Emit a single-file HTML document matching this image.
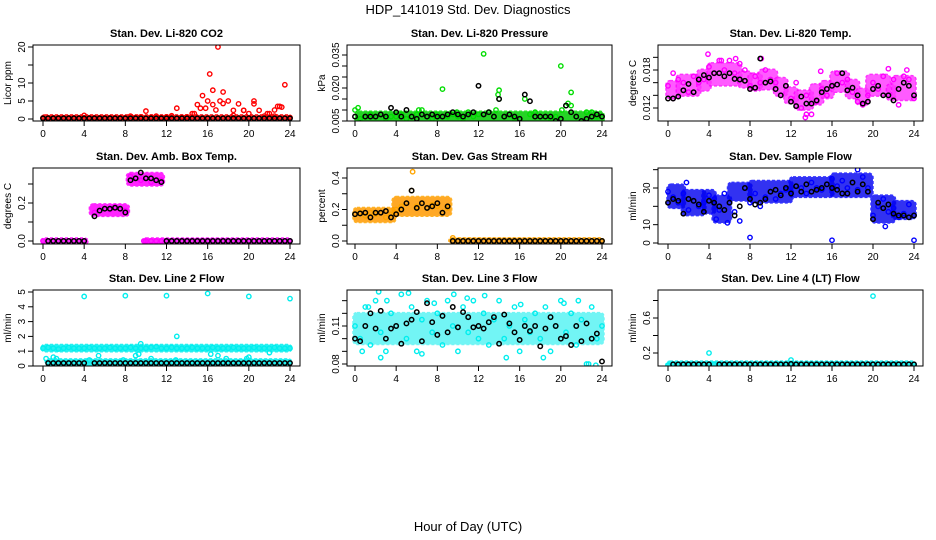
<!DOCTYPE html>
<html><head><meta charset="utf-8">
<style>
body{margin:0;background:#fff;}
svg{display:block;font-family:"Liberation Sans",Arial,sans-serif;}
</style></head>
<body>
<svg id="chart" width="936" height="540" viewBox="0 0 936 540" xmlns="http://www.w3.org/2000/svg">
<rect width="936" height="540" fill="#fff"/>
<text x="468" y="14" font-size="13" text-anchor="middle">HDP_141019  Std. Dev. Diagnostics</text>
<text x="468" y="531" font-size="13" text-anchor="middle">Hour of Day (UTC)</text>
</svg>
<script>
// ---- data (values at every 0.5 h from 0 to 24) ----
const xTicks = [0,4,8,12,16,20,24];
const co2Color = [0.3,0.3,0.3,0.3,0.3,0.3,0.3,0.3, 1.0,0.3,0.3,0.3,0.3,0.3,0.3,0.3, 0.3,0.8,0.4,0.6,2.2,0.5,0.8,0.4, 0.6,0.9,3.0,0.5,0.6,1.5,4.0,6.5, 5.0,8.0,20,7.5,5.0,1.0,4.2,2.4, 1.5,5.0,2.4,0.8,1.5,0.8,3.5,9.5,0.4];
const co2Black = [0.2,0.2,0.2,0.2,0.2,0.2,0.2,0.2,0.2,0.2,0.2,0.2,0.2,0.2,0.2,0.2,0.2,0.2,0.2,0.2,0.2,0.2,0.2,0.2,0.2,0.2,0.2,0.2,0.2,0.2,0.2,0.2,0.2,0.2,0.2,0.2,0.2,0.2,0.2,0.2,0.2,0.2,0.2,0.2,0.2,0.2,0.2,0.2,0.2];
const co2ExtraH = [16.2,15.8,16.5,17.5,18.5,19.5,20.5,22.5,23.2,15.3,16.8,17.2,14.7,21.8,22.8];
const co2ExtraV = [12.5,3,4,4.3,2.4,2.4,4.2,2.5,3.3,3.0,2.5,5,1.5,1.5,3.5];
const co2Bands = [[0,24,0,0.6]];

const presColor = [0.010,0.006,0.007,0.008,0.007,0.008,0.006,0.007, 0.007,0.008,0.006,0.007,0.008,0.010,0.007,0.006, 0.008,0.0195,0.007,0.008,0.007,0.006,0.009,0.007, 0.008,0.0355,0.009,0.007,0.019,0.007,0.008,0.006, 0.006,0.015,0.008,0.009,0.007,0.007,0.006,0.007, 0.030,0.012,0.018,0.007,0.005,0.009,0.009,0.007,0.007];
const presBlack = [0.007,0.004,0.007,0.007,0.007,0.008,0.007,0.011, 0.009,0.007,0.010,0.007,0.006,0.008,0.007,0.008, 0.007,0.007,0.008,0.009,0.008,0.007,0.008,0.009, 0.021,0.008,0.009,0.007,0.015,0.007,0.008,0.007, 0.006,0.017,0.014,0.007,0.007,0.007,0.007,0.005, 0.006,0.012,0.009,0.007,0.005,0.006,0.007,0.008,0.007];
const presExtraH = [0.3,13.9,14.0,20.1,20.7,21.0,6.2,9.9,13.7];
const presExtraV = [0.011,0.017,0.015,0.010,0.013,0.012,0.010,0.009,0.010];
const presBands = [[0.2,24,0.0045,0.0085]];

const tempColor = [0.0155,0.0135,0.0165,0.016,0.0145,0.017,0.016,0.0165, 0.0185,0.0175,0.0195,0.018,0.0195,0.0175,0.019,0.0180, 0.0155,0.0170,0.0160,0.0180,0.0165,0.0160,0.0140,0.0155, 0.0135,0.0160,0.0120,0.0140,0.0110,0.0130,0.0150,0.0140, 0.0155,0.0175,0.0160,0.0165,0.0145,0.0130,0.0125,0.0140, 0.0160,0.0150,0.0170,0.0140,0.0165,0.0125,0.0170,0.0165,0.0135];
const tempBlack = [0.0135,0.0135,0.0138,0.0148,0.0158,0.0145,0.0165,0.0172, 0.0168,0.0175,0.0175,0.0170,0.0175,0.0166,0.0165,0.0163, 0.0150,0.0152,0.0198,0.0160,0.0162,0.0150,0.0140,0.0155, 0.0130,0.0123,0.0138,0.0127,0.0127,0.0132,0.0145,0.0150, 0.0155,0.0157,0.0175,0.0148,0.0152,0.0140,0.0127,0.0130, 0.0150,0.0155,0.0140,0.0140,0.0132,0.0150,0.0160,0.0155,0.0140];
const tempExtraH = [0.5,5.2,6.6,13.4,13.5,14.9,3.9,9.1,21.5,23.3];
const tempExtraV = [0.0175,0.0195,0.0198,0.0105,0.0110,0.0178,0.0205,0.0198,0.0182,0.0180];
const tempBands = [[0,1,0.0138,0.0160],[1,3,0.0142,0.0170],[3,4,0.0150,0.0178],[4,7,0.0158,0.0188],[7,8,0.0155,0.0175],[8,9,0.0150,0.0172],[9,10.5,0.0152,0.0178],[10.5,11.5,0.0142,0.0165],[11.5,12.5,0.0130,0.0150],[12.5,14,0.0120,0.0145],[14,15,0.0128,0.0155],[15,16,0.0138,0.0160],[16,17.5,0.0148,0.0175],[17.5,18.5,0.0138,0.0162],[18.5,19.5,0.0128,0.0148],[19.5,21.5,0.0142,0.0170],[21.5,22,0.0135,0.0155],[22,24,0.0135,0.0168]];

const ambColor = [0,0,0,0,0,0,0,0,0,null,0.15,0.16,0.17,0.165,0.18,0.17,0.16,0.34,0.33,0.32,0.33,0.31,0.32,0.32,0,0,0,0,0,0,0,0,0,0,0,0,0,0,0,0,0,0,0,0,0,0,0,0,0];
const ambBlack = [null,0,0,0,0,0,0,0,0,null,0.13,0.16,0.17,0.17,0.175,0.17,0.15,0.32,0.33,0.36,0.33,0.33,0.32,0.31,0,0,0,0,0,0,0,0,0,0,0,0,0,0,0,0,0,0,0,0,0,0,0,0,0];
const ambExtraH = [10,10.5,11,11.5,9.8];
const ambExtraV = [0,0,0,0,0];
const ambBands = [[0,4.2,-0.005,0.005],[4.7,8.2,0.14,0.185],[8.3,11.6,0.30,0.35],[9.8,24,-0.005,0.005]];

const rhColor = [0.17,0.18,0.16,0.18,0.17,0.18,0.15,0.17, 0.20,0.22,0.24,0.32,0.22,0.24,0.21,0.23,0.22,0.18,0.21,0.02, 0,0,0,0,0,0,0,0,0,0,0,0,0,0,0,0,0,0,0,0,0,0,0,0,0,0,0,0,0];
const rhBlack = [0.17,0.175,0.18,0.15,0.18,0.18,0.19,0.15, 0.17,0.20,0.24,0.32,0.21,0.24,0.21,0.22, 0.24,0.18,0.22, 0,0,0,0,0,0,0,0,0,0,0,0,0,0,0,0,0,0,0,0,0,0,0,0,0,0,0,0,0,0];
const rhExtraH = [5.6];
const rhExtraV = [0.44];
const rhBands = [[0,3.8,0.13,0.2],[3.8,9.2,0.17,0.27],[9.3,24,-0.005,0.008]];

const flowColor = [28,25,22,27,18,23,20,22, 26,24,18,27,22,17,12,30, 22,27,20,25,28,24,27,29, 28,31,30,27,33,30,29,32, 35,31,34,30,33,29,36,30, 15,20,24,17,19,14,16,21,15];
const flowBlack = [22,24,23,16,24,23,21,17, 23,22,20,18,22,15,20,30, 24,21,22,24,28,29,26,30, 27,31,28,32,28,29,30,32, 30,29,27,27,33,28,32,28, 13,22,19,21,16,15,15,14,15];
const flowExtraH = [8,16,24,18.5,4.7,1.8,5.8,21.2];
const flowExtraV = [3,1.5,1.5,40,13,33,11,9];
const flowBands = [[0.1,1.5,20,31],[1.5,3.5,16,28],[3.5,4.5,17,28],[4.5,6,12,25],[6,8,24,32],[8,12,23,33],[12,16,26,35],[16,19.8,26,37],[20,22,12,25],[22,24,14,22]];

const l2Color = [1.2,1.25,1.2,1.15,1.2,1.25,1.2,1.2,1.2,1.25,1.2,1.2,1.2,1.25,1.2,1.2,1.2,1.25,1.2,1.2,1.2,1.25,1.3,1.2,1.2,1.25,1.2,1.2,1.2,1.25,1.2,1.2,1.2,1.25,1.2,1.2,1.2,1.25,1.2,1.2,1.2,1.25,1.2,1.2,1.2,1.25,1.2,1.2,1.2];
const l2Black = [null,0.2,0.2,0.2,0.2,0.2,0.2,0.2,0.2,null,0.2,0.2,0.2,0.2,0.2,0.2,0.2,0.2,0.2,0.2,0.2,0.2,0.2,0.2,0.2,0.2,0.2,0.2,0.2,0.2,0.2,0.2,0.2,0.2,0.2,0.2,0.2,0.2,0.2,0.2,0.2,0.2,0.2,0.2,0.2,0.2,0.2,0.2,0.2];
const l2ExtraH = [0.3,1,1.3,4.5,5.4,7.8,9,9.3,9.5,10.5,13,12.9,16.3,17,17.8,20,22,19.8,4,8,12,16,20,24];
const l2ExtraV = [0.5,0.6,0.5,0.4,0.7,0.4,0.7,0.8,1.5,0.5,2.0,0.4,0.8,0.7,0.5,0.6,0.9,0.5,4.7,4.75,4.75,4.9,4.7,4.55];
const l2Bands = [[0,24,1.1,1.32],[0.4,24,0.15,0.35]];

const l3Color = [0.11,0.10,0.125,0.095,0.13,0.105,0.09,0.12, 0.11,0.135,0.10,0.125,0.09,0.115,0.13,0.105, 0.12,0.095,0.13,0.11,0.09,0.125,0.105,0.13, 0.10,0.12,0.095,0.115,0.13,0.10,0.11,0.125, 0.09,0.115,0.105,0.12,0.10,0.125,0.09,0.11, 0.13,0.105,0.12,0.095,0.115,0.08,0.125,0.10,0.11];
const l3Black = [0.10,0.098,0.11,0.12,0.108,0.122,0.10,0.108,0.11,0.096,0.112,0.115,0.121,0.098,0.128,0.113,0.103,0.118,0.105,0.125,0.109,0.121,0.117,0.109,0.11,0.108,0.113,0.117,0.096,0.119,0.112,0.105,0.099,0.11,0.106,0.110,0.094,0.108,0.117,0.11,0.100,0.102,0.095,0.110,0.098,0.112,0.100,0.104,0.082];
const l3ExtraH = [2.3,5.2,9.6,12.6,20.3,22.7,23.4,14.7,18.3,2.5,0.7,6.5,1.3,3.1,7.7,10.9,16.1,21.7];
const l3ExtraV = [0.137,0.136,0.135,0.134,0.128,0.08,0.079,0.085,0.085,0.085,0.09,0.088,0.125,0.13,0.128,0.132,0.127,0.13];
const l3Bands = [[0,24,0.097,0.119]];

const l4Color = [0.06,0.07,0.065,0.07,0.06,0.07,0.065,0.07,0.075,0.07,0.065,0.07,0.06,0.07,0.065,0.07,0.06,0.07,0.065,0.07,0.06,0.07,0.065,0.07,0.075,0.07,0.065,0.07,0.06,0.07,0.065,0.07,0.06,0.07,0.065,0.07,0.06,0.07,0.065,0.07,0.07,0.07,0.065,0.07,0.06,0.07,0.065,0.07,0.07];
const l4Black = [null,0.07,0.07,0.07,0.07,0.07,0.07,0.07,0.07,null,0.07,0.07,0.07,0.07,0.07,0.07,0.07,0.07,0.07,0.07,0.07,0.07,0.07,0.07,0.075,0.07,0.07,0.07,0.07,0.07,0.07,0.07,0.07,0.07,0.07,0.07,0.07,0.07,0.07,0.07,0.07,0.07,0.07,0.07,0.07,0.07,0.07,0.07,0.07];
const l4ExtraH = [4,12,20];
const l4ExtraV = [0.2,0.12,0.85];
const l4Bands = [[0,24,0.05,0.085]];

// ---- panel layout ----
const colBox = [[33,300,43,290],[347,612,355,602],[658,923,668,914]];
const rowBox = [[45,121],[168,244],[290,366]];
const NS='http://www.w3.org/2000/svg';
const svg=document.getElementById('chart');
function mk(tag,attrs,parent){const e=document.createElementNS(NS,tag);for(const k in attrs)e.setAttribute(k,attrs[k]);(parent||svg).appendChild(e);return e;}

const panels = [
 {key:'co2',title:'Stan. Dev. Li-820 CO2',ylab:'Licor ppm',col:0,row:0,color:'#ff0000',band:'#ff0000',bop:0.85,ya:[0,20],yp:[119,47],ticks:[0,5,10,15,20],labels:['0','5','10','','20'],c:co2Color,b:co2Black,eh:co2ExtraH,ev:co2ExtraV,bands:co2Bands},
 {key:'pressure',title:'Stan. Dev. Li-820 Pressure',ylab:'kPa',col:1,row:0,color:'#00dd00',band:'#00cc00',bop:0.85,ya:[0.005,0.035],yp:[121,55],ticks:[0.005,0.010,0.015,0.020,0.025,0.030,0.035],labels:['0.005','','','0.020','','','0.035'],c:presColor,b:presBlack,eh:presExtraH,ev:presExtraV,bands:presBands},
 {key:'temp',title:'Stan. Dev. Li-820 Temp.',ylab:'degrees C',col:2,row:0,color:'#ff00ff',band:'#ff33ff',bop:0.8,ya:[0.012,0.018],yp:[108,70],ticks:[0.012,0.014,0.016,0.018,0.020],labels:['0.012','','','0.018',''],c:tempColor,b:tempBlack,eh:tempExtraH,ev:tempExtraV,bands:tempBands},
 {key:'ambbox',title:'Stan. Dev. Amb. Box Temp.',ylab:'degrees C',col:0,row:1,color:'#ff00ff',band:'#ff00ff',bop:0.85,ya:[0,0.2],yp:[241,203],ticks:[0,0.1,0.2,0.3],labels:['0.0','','0.2',''],c:ambColor,b:ambBlack,eh:ambExtraH,ev:ambExtraV,bands:ambBands},
 {key:'rh',title:'Stan. Dev. Gas Stream RH',ylab:'percent',col:1,row:1,color:'#ffa500',band:'#ff9900',bop:0.85,ya:[0,0.4],yp:[241,178],ticks:[0,0.1,0.2,0.3,0.4],labels:['0.0','','0.2','','0.4'],c:rhColor,b:rhBlack,eh:rhExtraH,ev:rhExtraV,bands:rhBands},
 {key:'sampleflow',title:'Stan. Dev. Sample Flow',ylab:'ml/min',col:2,row:1,color:'#0000ff',band:'#0000ee',bop:0.8,ya:[0,30],yp:[243,188],ticks:[0,10,20,30,40],labels:['0','10','','30',''],c:flowColor,b:flowBlack,eh:flowExtraH,ev:flowExtraV,bands:flowBands},
 {key:'line2',title:'Stan. Dev. Line 2 Flow',ylab:'ml/min',col:0,row:2,color:'#00eeee',band:'#00eeee',bop:0.85,ya:[0,5],yp:[366,292],ticks:[0,1,2,3,4,5],labels:['0','1','2','3','4','5'],c:l2Color,b:l2Black,eh:l2ExtraH,ev:l2ExtraV,bands:l2Bands},
 {key:'line3',title:'Stan. Dev. Line 3 Flow',ylab:'ml/min',col:1,row:2,color:'#00eeee',band:'#00eeee',bop:0.55,ya:[0.08,0.11],yp:[364,326],ticks:[0.08,0.09,0.10,0.11,0.12,0.13],labels:['0.08','','','0.11','',''],c:l3Color,b:l3Black,eh:l3ExtraH,ev:l3ExtraV,bands:l3Bands},
 {key:'line4',title:'Stan. Dev. Line 4 (LT) Flow',ylab:'ml/min',col:2,row:2,color:'#00eeee',band:'#00eeee',bop:0.85,ya:[0.2,0.6],yp:[353,318],ticks:[0.2,0.4,0.6,0.8],labels:['0.2','','0.6',''],c:l4Color,b:l4Black,eh:l4ExtraH,ev:l4ExtraV,bands:l4Bands}
];

panels.forEach(p=>{
  const [bx0,bx1,h0,h24]=colBox[p.col];
  const [by0,by1]=rowBox[p.row];
  const xs=h=>h0+(h24-h0)*h/24;
  const ys=v=>p.yp[0]+(p.yp[1]-p.yp[0])*(v-p.ya[0])/(p.ya[1]-p.ya[0]);
  const g=mk('g',{});
  
  
  const clipId='clip-'+p.key;
  const cp=mk('clipPath',{id:clipId},g);
  mk('rect',{x:bx0,y:by0,width:bx1-bx0,height:by1-by0},cp);
  const t=mk('text',{x:(bx0+bx1)/2,y:by0-8,'font-size':11,'font-weight':'bold','text-anchor':'middle'},g);
  t.textContent=p.title;
  
  
  const yl=mk('text',{x:0,y:0,'font-size':10,'text-anchor':'middle',transform:`translate(${bx0-22},${(by0+by1)/2}) rotate(-90)`},g);
  yl.textContent=p.ylab;
  
  
  const marks=mk('g',{'clip-path':`url(#${clipId})`},g);
  
  
  p.bands.forEach(bd=>{
    const r=mk('rect',{x:xs(bd[0])-2,y:ys(bd[3])-2,width:xs(bd[1])-xs(bd[0])+4,height:Math.max(4,ys(bd[2])-ys(bd[3])+4),rx:4,fill:p.band,opacity:p.bop,stroke:p.color,'stroke-width':1.5,'stroke-dasharray':'3 2'},marks);
    
    
  });
  const dot=(h,v,col,r,sw)=>mk('circle',{cx:xs(h),cy:ys(v),r:r,fill:'none',stroke:col,'stroke-width':sw},marks);
  p.c.forEach((v,i)=>{ if(v===null)return;
    const c=dot(i*0.5,v,p.color,2.2,1.4);
    
    
  });
  p.eh.forEach((h,i)=>{
    const c=dot(h,p.ev[i],p.color,2.2,1.4);
    
    
  });
  p.b.forEach((v,i)=>{ if(v===null)return;
    const c=dot(i*0.5,v,'#000',2.2,1.5);
    
    
  });
  const box=mk('rect',{x:bx0,y:by0,width:bx1-bx0,height:by1-by0,fill:'none',stroke:'#000','stroke-width':1},g);
  
  
  const xa=mk('g',{},g);
  
  
  mk('line',{x1:xs(0),x2:xs(24),y1:by1,y2:by1,stroke:'#000'},xa);
  xTicks.forEach(h=>{
    mk('line',{x1:xs(h),x2:xs(h),y1:by1,y2:by1+5,stroke:'#000'},xa);
    const tl=mk('text',{x:xs(h),y:by1+16,'font-size':10,'text-anchor':'middle'},xa);
    tl.textContent=String(h);
  });
  const ya=mk('g',{},g);
  
  
  mk('line',{x1:bx0,x2:bx0,y1:ys(p.ticks[0]),y2:ys(p.ticks[p.ticks.length-1]),stroke:'#000'},ya);
  p.ticks.forEach((tv,i)=>{
    const yy=ys(tv);
    mk('line',{x1:bx0-5,x2:bx0,y1:yy,y2:yy,stroke:'#000'},ya);
    if(p.labels[i]){
      const tl=mk('text',{x:0,y:0,'font-size':10,'text-anchor':'middle',transform:`translate(${bx0-8},${yy}) rotate(-90)`},ya);
      tl.textContent=p.labels[i];
    }
  });
});
</script>
</body></html>
